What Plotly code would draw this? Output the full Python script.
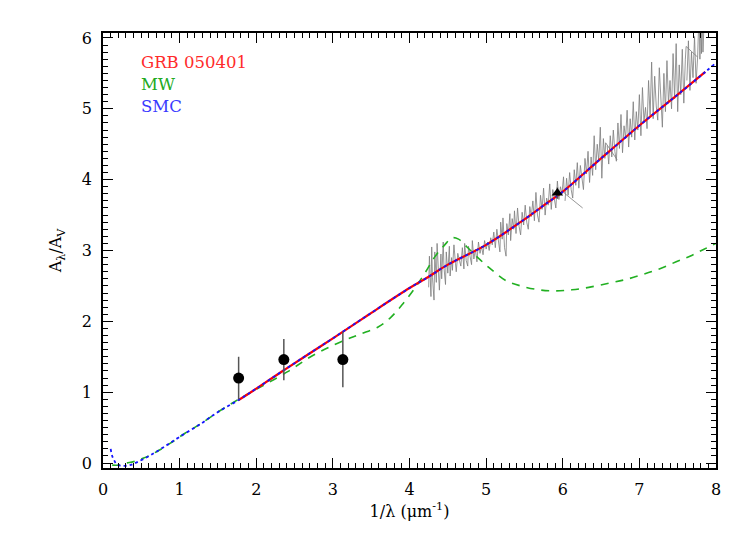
import plotly.graph_objects as go

# ---------------- data ----------------
smc_x = [0.10, 0.12, 0.15, 0.18, 0.25, 0.35, 0.44, 0.62, 0.80, 1.00, 1.27, 1.50, 1.77, 2.00, 2.36,
         2.70, 3.00, 3.46, 4.00, 4.25, 4.50, 5.00, 5.50, 5.73, 6.00, 6.50, 7.04, 7.50, 7.86, 8.00]
smc_y = [0.20, 0.10, 0.03, -0.02, -0.04, -0.03, 0.01, 0.11, 0.23, 0.37, 0.55, 0.72, 0.89, 1.05, 1.31,
         1.55, 1.76, 2.09, 2.47, 2.63, 2.80, 3.08, 3.44, 3.62, 3.83, 4.30, 4.80, 5.20, 5.52, 5.65]

grb_x = [1.77, 2.00, 2.36, 2.70, 3.00, 3.46, 4.00, 4.25, 4.50, 5.00, 5.50, 5.73, 6.00, 6.50, 7.04, 7.50, 7.86]
grb_y = [0.89, 1.05, 1.31, 1.55, 1.76, 2.09, 2.47, 2.63, 2.80, 3.08, 3.44, 3.62, 3.83, 4.30, 4.80, 5.20, 5.52]

mw_x = [0.12, 0.20, 0.30, 0.40, 0.53, 0.70, 0.88, 1.07, 1.27, 1.50, 1.77, 2.00, 2.41, 2.71, 3.02,
        3.33, 3.59, 3.75, 3.90, 4.07, 4.20, 4.33, 4.46, 4.56, 4.64, 4.75, 4.92, 5.07, 5.25, 5.45,
        5.69, 5.90, 6.12, 6.34, 6.61, 6.82, 7.04, 7.26, 7.48, 7.66, 7.83, 8.00]
mw_y = [-0.03, -0.03, 0.00, 0.02, 0.07, 0.16, 0.28, 0.42, 0.55, 0.72, 0.90, 1.04, 1.29, 1.50, 1.67,
        1.81, 1.92, 2.05, 2.23, 2.47, 2.68, 2.91, 3.08, 3.18, 3.16, 3.05, 2.87, 2.73, 2.58, 2.50,
        2.445, 2.43, 2.445, 2.48, 2.54, 2.59, 2.66, 2.74, 2.84, 2.92, 3.01, 3.10]

spec_x = [4.25, 4.26, 4.28, 4.29, 4.30, 4.32, 4.33, 4.35, 4.36, 4.38, 4.39, 4.41, 4.42, 4.44, 4.45,
          4.47, 4.48, 4.50, 4.52, 4.53, 4.55, 4.56, 4.58, 4.60, 4.61, 4.63, 4.65, 4.67, 4.69, 4.71,
          4.72, 4.74, 4.76, 4.77, 4.79, 4.81, 4.82, 4.84, 4.86, 4.88, 4.90, 4.92, 4.94, 4.96, 4.98,
          5.00, 5.02, 5.04, 5.06, 5.08, 5.10, 5.12, 5.14, 5.16, 5.18, 5.19, 5.21, 5.22, 5.24, 5.26,
          5.27, 5.29, 5.31, 5.32, 5.34, 5.36, 5.37, 5.39, 5.41, 5.43, 5.45, 5.47, 5.49, 5.51, 5.53,
          5.55, 5.57, 5.59, 5.61, 5.63, 5.65, 5.67, 5.69, 5.71, 5.73, 5.75, 5.77, 5.79, 5.81, 5.83,
          5.85, 5.87, 5.89, 5.91, 5.93, 5.95, 5.97, 5.99, 6.01, 6.02, 6.26,
          None,
          6.03, 6.05, 6.07, 6.09, 6.11, 6.13, 6.15, 6.17, 6.19, 6.21, 6.23, 6.25, 6.27, 6.29, 6.31,
          6.33, 6.35, 6.37, 6.39, 6.41, 6.43, 6.45, 6.47, 6.49, 6.51, 6.53, 6.55, 6.56, 6.71,
          None,
          6.58, 6.60, 6.62, 6.64, 6.66, 6.68, 6.70, 6.72, 6.74, 6.76, 6.78, 6.80, 6.82, 6.84, 6.86,
          6.88, 6.90, 6.92, 6.94, 6.96, 6.98, 7.00, 7.02, 7.04, 7.06, 7.08, 7.10, 7.12, 7.14, 7.16,
          7.18, 7.20, 7.22, 7.24, 7.26, 7.28, 7.30, 7.32, 7.34, 7.36, 7.38, 7.40, 7.42, 7.44, 7.46,
          7.48, 7.50, 7.52, 7.54, 7.56, 7.58, 7.60, 7.61, 7.76,
          None,
          7.62, 7.64, 7.66, 7.68, 7.70, 7.72, 7.74, 7.76, 7.78, 7.79, 7.80, 7.81, 7.82, 7.83, 7.84]
spec_y = [2.48, 2.92, 2.35, 3.05, 2.62, 2.30, 2.98, 2.55, 3.10, 2.70, 2.44, 2.95, 2.60, 3.12, 2.76,
          2.52, 2.98, 2.68, 3.06, 2.64, 2.90, 2.72, 3.08, 2.82, 2.70, 2.96, 2.86, 2.78, 3.04, 2.74,
          3.10, 2.86, 2.78, 3.06, 2.92, 2.80, 3.14, 2.88, 3.02, 2.84, 3.12, 2.96, 3.06, 2.94, 3.14,
          3.02, 3.12, 3.00, 3.18, 3.08, 3.26, 3.04, 3.30, 3.12, 2.98, 3.40, 3.16, 3.46, 3.04, 2.92,
          3.38, 3.22, 3.52, 3.14, 3.45, 3.30, 3.56, 3.24, 3.60, 3.34, 3.22, 3.54, 3.36, 3.64, 3.40,
          3.30, 3.62, 3.48, 3.70, 3.42, 3.82, 3.50, 3.40, 3.78, 3.58, 3.88, 3.50, 3.74, 3.64, 3.94,
          3.58, 3.86, 3.70, 3.60, 3.98, 3.72, 3.90, 3.80, 4.04, 3.81, 3.60,
          None,
          3.70, 4.02, 3.78, 4.10, 3.86, 3.74, 4.14, 3.92, 4.24, 3.88, 4.20, 4.06, 3.86, 4.30, 4.08,
          4.40, 3.96, 4.32, 4.06, 4.62, 4.14, 4.50, 4.26, 4.74, 4.02, 4.58, 4.30, 4.52, 4.28,
          None,
          4.48, 4.22, 4.62, 4.32, 4.70, 4.40, 4.26, 4.80, 4.44, 4.92, 4.38, 4.76, 4.58, 4.98, 4.46,
          4.86, 4.60, 5.10, 4.56, 4.96, 4.70, 5.20, 4.62, 5.30, 4.82, 5.02, 4.72, 5.40, 4.90, 5.66,
          4.86, 5.46, 5.04, 4.84, 5.58, 5.12, 4.74, 5.50, 4.96, 5.68, 5.08, 5.40, 5.00, 5.78, 5.14,
          5.92, 4.96, 5.62, 5.20, 5.84, 5.08, 5.70, 5.88, 5.73,
          None,
          5.40, 5.96, 5.26, 5.80, 5.44, 6.02, 5.36, 5.73, 6.40, 5.70, 6.30, 5.78, 6.45, 5.80, 6.10]

phot_x = [1.77, 2.36, 3.13]
phot_y = [1.20, 1.46, 1.46]
phot_err = [0.30, 0.29, 0.39]

tri_x = [5.93]
tri_y = [3.81]
tri_err = [0.08]

legend_labels = ["GRB 050401", "MW", "SMC"]
legend_colors = ["#ff2a2a", "#22aa22", "#3a3aff"]

# axis settings
X_RANGE = [0, 8]
Y_RANGE = [-0.07, 6.07]
MINOR_STEP = 0.1

FONT = "DejaVu Serif"

fig = go.Figure()

fig.add_trace(go.Scatter(x=spec_x, y=spec_y, mode="lines", connectgaps=False,
                         line=dict(color="rgba(125,125,125,0.8)", width=1), showlegend=False))
fig.add_trace(go.Scatter(x=mw_x, y=mw_y, mode="lines", line_shape="spline",
                         line=dict(color="#22b022", width=1.6, dash="8px,7px"), showlegend=False))
fig.add_trace(go.Scatter(x=grb_x, y=grb_y, mode="lines", line_shape="spline",
                         line=dict(color="#ff0000", width=2.2), showlegend=False))
fig.add_trace(go.Scatter(x=smc_x, y=smc_y, mode="lines", line_shape="spline",
                         line=dict(color="#1515ff", width=1.8, dash="dot"), showlegend=False))
fig.add_trace(go.Scatter(x=phot_x, y=phot_y, mode="markers",
                         marker=dict(color="black", size=11),
                         error_y=dict(type="data", array=phot_err, color="#555555", thickness=1.5, width=0),
                         showlegend=False))
fig.add_trace(go.Scatter(x=tri_x, y=tri_y, mode="markers",
                         marker=dict(color="black", size=10, symbol="triangle-up"),
                         error_y=dict(type="data", array=tri_err, color="#555555", thickness=1.5, width=0),
                         showlegend=False))

for i, (lab, col) in enumerate(zip(legend_labels, legend_colors)):
    fig.add_annotation(x=0.058, y=0.933 - i * 0.0505, xref="paper", yref="paper",
                       text=lab, showarrow=False, xanchor="left", yanchor="middle",
                       font=dict(family=FONT, size=16.5, color=col))

tickfont = dict(family=FONT, size=16, color="black")


def minor_axis(rng, side, overlay, color="black", anchor=None):
    d = dict(range=rng, dtick=MINOR_STEP, tick0=0, side=side, ticks="inside", ticklen=5,
             tickwidth=1.2, tickcolor=color, showgrid=False, zeroline=False, showline=False,
             showticklabels=False, overlaying=overlay)
    if anchor:
        d["anchor"] = anchor
    return d


fig.update_layout(
    # main axes: frame on all four sides, major ticks mirrored to top / right
    xaxis=dict(range=X_RANGE, dtick=1, tick0=0, ticks="inside", ticklen=10, tickwidth=1.2,
               tickcolor="black", showline=True, linecolor="black", linewidth=1.5, mirror="allticks",
               showgrid=False, zeroline=False, tickfont=tickfont, ticklabelstandoff=6,
               title=dict(text="1/λ (μm<sup>-1</sup>)", font=dict(family=FONT, size=16, color="black"),
                          standoff=8)),
    yaxis=dict(range=Y_RANGE, dtick=1, tick0=0, ticks="inside", ticklen=10, tickwidth=1.2,
               tickcolor="black", showline=True, linecolor="black", linewidth=1.5, mirror="allticks",
               showgrid=False, zeroline=False, tickfont=tickfont, ticklabelstandoff=6,
               title=dict(text="A<sub>λ</sub>/A<sub>V</sub>", font=dict(family=FONT, size=16, color="black"),
                          standoff=16)),
    # minor ticks on every side via overlaid axes
    xaxis3=minor_axis(X_RANGE, "bottom", "x"),
    yaxis3=minor_axis(Y_RANGE, "left", "y"),
    xaxis4=minor_axis(X_RANGE, "top", "x", anchor="y4"),
    yaxis4=minor_axis(Y_RANGE, "right", "y", anchor="x4"),
)
fig.add_trace(go.Scatter(x=[None], y=[None], xaxis="x3", yaxis="y3", showlegend=False, hoverinfo="skip"))
fig.add_trace(go.Scatter(x=[None], y=[None], xaxis="x4", yaxis="y4", showlegend=False, hoverinfo="skip"))

# transparent plot background (paper is white) so the overlaid tick axes stay visible
fig.update_layout(width=739, height=526, margin=dict(l=95, r=31, t=25, b=66),
                  plot_bgcolor="rgba(0,0,0,0)", paper_bgcolor="white", showlegend=False)

fig.write_html("out.html")
